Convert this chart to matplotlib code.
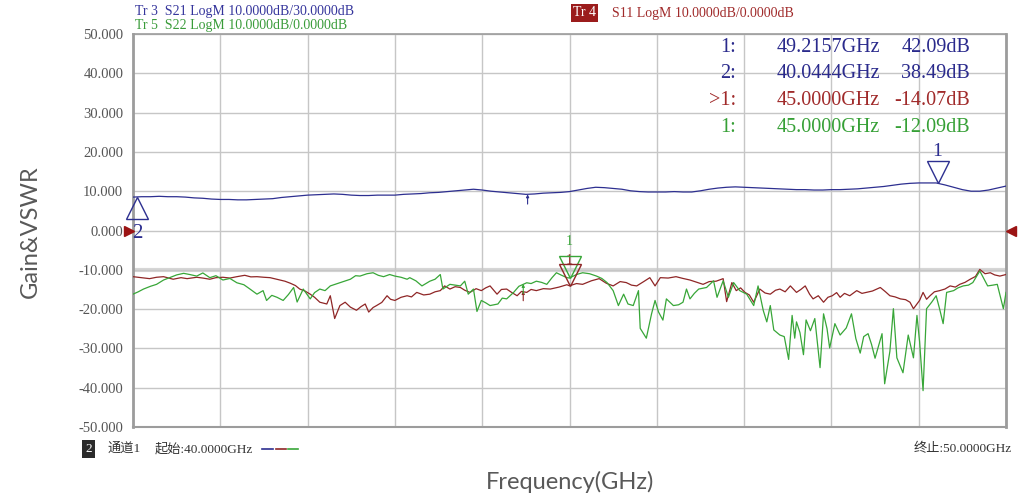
import matplotlib
matplotlib.use('Agg')
import matplotlib.pyplot as plt
from matplotlib.lines import Line2D
from matplotlib.transforms import offset_copy
import numpy as np

plt.rcParams['font.family'] = ['Liberation Serif', 'Noto Sans CJK SC', 'DejaVu Sans']
plt.rcParams['axes.unicode_minus'] = False

# ---- data (GHz / dB) ----
# S21 (displayed with +30 dB offset removed), 0.1 GHz steps
s21_f = np.linspace(40.0, 50.0, 101)
s21_db = [8.5, 8.6, 8.6, 8.7, 8.6, 8.6, 8.5, 8.3, 8.2, 8.0,
          7.9, 7.9, 7.8, 7.8, 7.9, 8.0, 8.1, 8.4, 8.6, 8.8,
          9.0, 9.1, 9.2, 9.3, 9.2, 9.0, 8.9, 8.9, 9.0, 9.0,
          9.0, 9.2, 9.3, 9.4, 9.6, 9.7, 9.9, 10.1, 10.3, 10.5,
          10.3, 10.0, 9.8, 9.6, 9.4, 9.2, 9.3, 9.5, 9.6, 9.7,
          9.9, 10.3, 10.7, 11.0, 10.9, 10.7, 10.5, 10.1, 9.9, 9.8,
          9.8, 9.8, 9.9, 9.8, 9.8, 10.1, 10.5, 10.8, 11.0, 11.1,
          11.0, 10.9, 10.8, 10.7, 10.6, 10.5, 10.4, 10.4, 10.3, 10.3,
          10.4, 10.4, 10.5, 10.6, 10.8, 11.0, 11.2, 11.5, 11.8, 12.0,
          12.1, 12.1, 12.1, 11.6, 11.0, 10.4, 10.0, 10.0, 10.3, 10.8,
          11.3]

# S11
s11_f = [40.00, 40.10, 40.19, 40.27, 40.35, 40.46, 40.55, 40.62, 40.73, 40.80,
         40.88, 40.95, 41.03, 41.11, 41.19, 41.28, 41.35, 41.42, 41.50, 41.57,
         41.68, 41.74, 41.80, 41.86, 41.91, 41.97, 42.03, 42.08, 42.14, 42.22,
         42.26, 42.31, 42.37, 42.43, 42.49, 42.56, 42.61, 42.66, 42.70, 42.75,
         42.79, 42.85, 42.91, 42.95, 43.00, 43.07, 43.14, 43.19, 43.25, 43.33,
         43.40, 43.46, 43.52, 43.57, 43.63, 43.69, 43.75, 43.80, 43.86, 43.93,
         43.99, 44.04, 44.09, 44.17, 44.22, 44.28, 44.34, 44.40, 44.45, 44.51,
         44.56, 44.62, 44.70, 44.78, 44.88, 44.97, 45.00, 45.08, 45.15, 45.25,
         45.34, 45.42, 45.50, 45.58, 45.65, 45.71, 45.77, 45.85, 45.92, 45.98,
         46.04, 46.13, 46.22, 46.30, 46.38, 46.45, 46.53, 46.60, 46.68, 46.76,
         46.80, 46.86, 46.91, 46.96, 47.01, 47.06, 47.11, 47.18, 47.24, 47.30,
         47.36, 47.41, 47.47, 47.53, 47.60, 47.65, 47.70, 47.75, 47.79, 47.85,
         47.91, 47.96, 48.01, 48.06, 48.10, 48.15, 48.21, 48.29, 48.35, 48.40,
         48.47, 48.56, 48.62, 48.67, 48.73, 48.79, 48.85, 48.90, 48.94, 49.01,
         49.05, 49.09, 49.13, 49.18, 49.24, 49.30, 49.36, 49.42, 49.47, 49.53,
         49.59, 49.65, 49.70, 49.76, 49.82, 49.87, 49.93, 50.00]
s11_db = [-11.75, -12.0, -12.25, -11.9, -11.75, -12.4, -12.0, -12.25, -11.9, -12.1,
          -12.4, -12.0, -11.9, -12.1, -11.75, -11.4, -11.8, -11.75, -11.9, -12.0,
          -12.6, -12.9, -13.4, -14.0, -14.9, -15.4, -16.2, -17.0, -18.25, -18.7,
          -16.6, -22.4, -19.1, -18.25, -19.5, -20.3, -19.4, -18.7, -20.75, -19.6,
          -19.1, -18.3, -16.6, -17.5, -17.8, -17.0, -16.6, -16.9, -15.75, -16.4,
          -16.2, -15.6, -15.3, -14.1, -14.9, -14.3, -14.5, -15.2, -15.75, -14.8,
          -15.3, -14.6, -14.1, -16.2, -15.0, -14.9, -15.8, -16.6, -15.5, -15.75,
          -15.0, -15.3, -14.8, -14.9, -14.4, -13.8, -14.07, -13.5, -13.7, -12.8,
          -12.25, -13.4, -14.1, -13.0, -13.25, -13.9, -14.1, -13.0, -12.0, -14.1,
          -12.0, -12.1, -11.75, -12.2, -12.6, -13.1, -13.7, -13.0, -12.9, -12.25,
          -18.1, -13.25, -15.3, -14.6, -15.75, -16.4, -18.25, -14.9, -15.9, -16.2,
          -15.2, -14.9, -15.6, -14.1, -15.75, -15.0, -14.1, -16.2, -17.4, -16.6,
          -18.25, -17.0, -16.6, -15.8, -17.0, -16.0, -16.6, -15.3, -16.0, -15.75,
          -15.4, -14.5, -15.6, -16.6, -16.9, -17.4, -17.6, -18.25, -19.9, -17.8,
          -15.75, -17.5, -16.6, -15.6, -15.3, -14.9, -14.1, -14.4, -13.7, -13.2,
          -12.4, -11.7, -9.9, -11.0, -10.75, -11.3, -11.6, -11.2]

# S22
s22_f = [40.00, 40.06, 40.12, 40.20, 40.27, 40.35, 40.42, 40.50, 40.58, 40.65,
         40.73, 40.80, 40.88, 40.95, 41.03, 41.11, 41.19, 41.27, 41.34, 41.42,
         41.49, 41.53, 41.59, 41.65, 41.72, 41.78, 41.84, 41.88, 41.95, 42.03,
         42.08, 42.14, 42.20, 42.26, 42.37, 42.49, 42.55, 42.60, 42.68, 42.75,
         42.81, 42.87, 42.94, 43.00, 43.07, 43.14, 43.17, 43.24, 43.31, 43.40,
         43.46, 43.52, 43.55, 43.63, 43.69, 43.75, 43.80, 43.84, 43.90, 43.94,
         43.99, 44.04, 44.09, 44.18, 44.23, 44.28, 44.36, 44.42, 44.47, 44.51,
         44.56, 44.62, 44.68, 44.74, 44.80, 44.85, 44.91, 44.97, 45.00, 45.08,
         45.15, 45.23, 45.31, 45.37, 45.43, 45.50, 45.56, 45.62, 45.67, 45.73,
         45.79, 45.81, 45.88, 45.94, 45.98, 46.02, 46.07, 46.11, 46.19, 46.25,
         46.30, 46.34, 46.38, 46.43, 46.48, 46.57, 46.65, 46.69, 46.76, 46.82,
         46.88, 46.95, 47.03, 47.11, 47.16, 47.22, 47.26, 47.30, 47.34, 47.41,
         47.46, 47.51, 47.55, 47.58, 47.60, 47.64, 47.68, 47.71, 47.76, 47.81,
         47.87, 47.91, 47.95, 47.98, 48.04, 48.10, 48.17, 48.23, 48.28, 48.33,
         48.37, 48.42, 48.46, 48.50, 48.58, 48.61, 48.67, 48.71, 48.75, 48.82,
         48.88, 48.94, 48.98, 49.01, 49.05, 49.09, 49.15, 49.20, 49.24, 49.28,
         49.32, 49.40, 49.45, 49.51, 49.57, 49.62, 49.70, 49.75, 49.79, 49.85,
         49.90, 49.97, 50.00]
s22_db = [-16.2, -15.6, -14.9, -14.2, -13.7, -12.6, -12.0, -11.3, -10.9, -11.2,
          -11.6, -10.8, -12.0, -11.5, -12.6, -12.2, -13.3, -13.8, -14.9, -16.2,
          -15.3, -17.8, -16.5, -17.0, -17.8, -16.3, -14.5, -18.2, -14.9, -17.4,
          -15.8, -14.9, -15.3, -14.1, -13.3, -12.4, -11.5, -11.6, -11.0, -10.75,
          -11.4, -11.75, -11.2, -11.6, -11.9, -12.4, -12.0, -12.8, -14.1, -12.9,
          -12.4, -11.2, -14.9, -13.7, -13.9, -14.1, -12.9, -16.2, -14.9, -20.6,
          -17.8, -18.4, -19.1, -18.7, -17.2, -17.4, -15.75, -14.2, -13.7, -13.3,
          -13.5, -12.9, -13.2, -13.7, -12.0, -10.75, -11.4, -12.0, -12.09, -11.2,
          -10.75, -11.0, -11.6, -12.2, -13.25, -15.3, -19.1, -16.2, -18.7, -19.1,
          -15.3, -24.9, -27.4, -21.2, -17.8, -20.75, -22.8, -17.4, -19.1, -18.9,
          -18.25, -14.9, -17.4, -16.0, -14.9, -14.5, -12.8, -17.0, -12.8, -17.0,
          -13.25, -15.3, -16.2, -19.1, -14.1, -20.4, -23.25, -19.1, -25.3, -26.6,
          -27.0, -32.8, -21.6, -27.4, -23.25, -26.0, -31.6, -22.75, -25.5, -22.4,
          -34.9, -21.2, -25.0, -29.9, -23.7, -26.6, -24.8, -21.2, -27.5, -31.2,
          -27.0, -26.25, -29.0, -32.5, -26.25, -39.0, -30.75, -19.9, -32.4, -36.2,
          -26.6, -32.4, -21.6, -28.25, -40.75, -19.9, -18.2, -16.6, -20.0, -23.7,
          -15.75, -15.3, -14.6, -14.1, -13.9, -13.25, -10.3, -12.4, -14.1, -13.9,
          -13.7, -19.9, -15.75]

ytick_vals = [50, 40, 30, 20, 10, 0, -10, -20, -30, -40, -50]
ytick_labels = ['50.000', '40.000', '30.000', '20.000', '10.000', '0.000',
                '-10.000', '-20.000', '-30.000', '-40.000', '-50.000']

# marker readouts
mk_s21 = [(49.2157, 12.09, '1'), (40.0444, 8.49, '2')]
mk_s11 = (45.0, -14.07)
mk_s22 = (45.0, -12.09)

BLUE = '#2d2f90'
RED = '#8f2626'
GREEN = '#38a638'

W, H = 1018, 500
fig = plt.figure(figsize=(W / 100, H / 100), dpi=100)
ax = fig.add_axes([133 / W, 1 - 427 / H, (1006 - 133) / W, (427 - 34) / H])

ax.set_xlim(40, 50)
ax.set_ylim(-50, 50)
ax.set_xticks(np.arange(40, 50.5, 1))
ax.set_xticklabels([])
ax.set_yticks(ytick_vals)
ax.set_yticklabels(ytick_labels)
ax.tick_params(length=0, pad=7, labelsize=10.5, labelcolor='#555555')
ax.grid(color='#c6c6c6', lw=1, zorder=0)
ax.axhline(-10, color='#d6d6d6', lw=3, zorder=0.5)
for side, lw in [('left', 2), ('right', 2), ('bottom', 1.5), ('top', 1.2)]:
    ax.spines[side].set_color('#9c9c9c')
    ax.spines[side].set_linewidth(lw)

ax.plot(s21_f, s21_db, color=BLUE, lw=0.9, zorder=3)
ax.plot(s11_f, s11_db, color=RED, lw=0.9, zorder=3)
ax.plot(s22_f, s22_db, color=GREEN, lw=0.9, zorder=3)


def tri(x, y, color, down, ms=16):
    dy = ms / 2 if down else -ms / 2
    tr = offset_copy(ax.transData, fig=fig, x=0, y=dy, units='points')
    ax.plot([x], [y], marker='v' if down else '^', ms=ms, mfc='none',
            mec=color, mew=1, transform=tr, clip_on=False, zorder=4)


# marker triangles and labels
tri(mk_s21[0][0], mk_s21[0][1], BLUE, True)
ax.annotate('1', (mk_s21[0][0], mk_s21[0][1]), xytext=(0, 23), textcoords='offset points',
            ha='center', va='center', color=BLUE, fontsize=14)
tri(mk_s21[1][0], mk_s21[1][1], BLUE, False)
ax.annotate('2', (mk_s21[1][0], mk_s21[1][1]), xytext=(0, -26), textcoords='offset points',
            ha='center', va='center', color=BLUE, fontsize=15, annotation_clip=False)
tri(mk_s22[0], mk_s22[1], GREEN, True)
tri(mk_s11[0], mk_s11[1], RED, True)
ax.annotate('1', mk_s22, xytext=(0, 26), textcoords='offset points',
            ha='center', va='center', color=GREEN, fontsize=10)
ax.annotate('1', mk_s11, xytext=(0, 18), textcoords='offset points',
            ha='center', va='center', color=RED, fontsize=10)

# small arrows
for (x, y, c) in [(44.52, 9.2, BLUE), (44.47, -15.4, RED), (44.47, -13.6, GREEN)]:
    ax.annotate('', xy=(x, y), xytext=(0, -7), textcoords='offset points',
                arrowprops=dict(arrowstyle='-|>', color=c, lw=0.8, mutation_scale=4,
                                shrinkA=0, shrinkB=0))

# reference level arrows at 0 dB
trl = offset_copy(ax.transData, fig=fig, x=-3, y=0, units='points')
ax.plot([40], [0], marker='>', ms=7, color='#9b1414', transform=trl, clip_on=False, zorder=5)
trr = offset_copy(ax.transData, fig=fig, x=3.5, y=0, units='points')
ax.plot([50], [0], marker='<', ms=7, color='#9b1414', transform=trr, clip_on=False, zorder=5)


def ftxt(x, y, s, **kw):
    kw.setdefault('va', 'center')
    return fig.text(x / W, 1 - y / H, s, **kw)


# header
ftxt(135, 11, 'Tr 3  S21 LogM 10.0000dB/30.0000dB', color='#35359c', fontsize=10)
ftxt(135, 25, 'Tr 5  S22 LogM 10.0000dB/0.0000dB', color='#3a9c3a', fontsize=10)
ftxt(573, 13, 'Tr 4', color='white', fontsize=10,
     bbox=dict(boxstyle='square,pad=0.15', fc='#9b1c1c', ec='none'))
ftxt(612, 13, 'S11 LogM 10.0000dB/0.0000dB', color='#a02a2a', fontsize=10)

# marker table
rows = [('1:', '49.2157GHz', '42.09dB', '#2a2a8c'),
        ('2:', '40.0444GHz', '38.49dB', '#2a2a8c'),
        ('>1:', '45.0000GHz', '-14.07dB', '#a02a2a'),
        ('1:', '45.0000GHz', '-12.09dB', '#36a036')]
for i, (a, b, c, col) in enumerate(rows):
    y = 47 + i * 26.7
    ftxt(736, y, a, ha='right', color=col, fontsize=14.5)
    ftxt(880, y, b, ha='right', color=col, fontsize=14.5)
    ftxt(970, y, c, ha='right', color=col, fontsize=14.5)

# footer
ftxt(85, 449, '2', color='white', fontsize=9.5,
     bbox=dict(boxstyle='square,pad=0.25', fc='#2b2b2b', ec='none'))
ftxt(107, 449, '通道1', color='#333333', fontsize=9.5)
ftxt(155, 449, '起始:40.0000GHz', color='#333333', fontsize=9.5)
for (x0, x1, c) in [(262, 273, BLUE), (276, 286, RED), (288, 298, GREEN)]:
    fig.add_artist(Line2D([x0 / W, x1 / W], [1 - 449 / H] * 2, color=c, lw=1.2))
ftxt(1012, 449, '终止:50.0000GHz', ha='right', color='#333333', fontsize=9.5)

# axis titles
ftxt(570, 482, 'Frequency(GHz)', ha='center', color='#595959', fontsize=17, family='Lato')
ftxt(30, 232, 'Gain&VSWR', ha='center', color='#595959', fontsize=17, family='Lato',
     rotation=90)

fig.savefig('out.png', dpi=100)
